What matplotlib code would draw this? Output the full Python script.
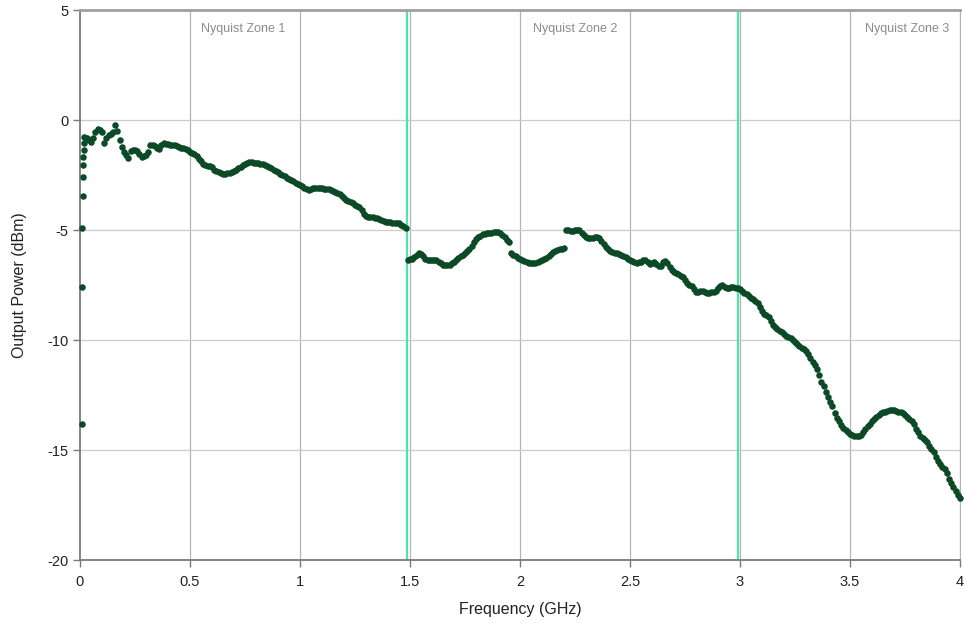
import numpy as np
import matplotlib
matplotlib.use('Agg')
import matplotlib.pyplot as plt

plt.rcParams['font.family'] = ['Liberation Sans', 'DejaVu Sans']
plt.rcParams['axes.unicode_minus'] = False

# first few readings right at the start of the sweep
low_freq = [0.009, 0.010, 0.011, 0.012, 0.013, 0.014, 0.015, 0.016, 0.018]
low_power = [-13.8, -7.6, -4.9, -3.45, -2.6, -2.05, -1.7, -1.35, -1.05]

# main sweep, 0.02 .. 4.00 GHz in 0.01 steps (dBm)
power = [
    -0.75, -0.82, -0.9, -1.0, -0.8, -0.55, -0.4, -0.45,
    -0.55, -1.05, -0.8, -0.7, -0.62, -0.55, -0.23, -0.5, -0.9, -1.23,
    -1.45, -1.6, -1.73, -1.4, -1.36, -1.38, -1.42, -1.55, -1.7, -1.65,
    -1.6, -1.45, -1.14, -1.15, -1.2, -1.25, -1.3, -1.15, -1.05, -1.08,
    -1.1, -1.12, -1.13, -1.15, -1.18, -1.22, -1.25, -1.27, -1.3, -1.38,
    -1.45, -1.5, -1.55, -1.65, -1.75, -1.88, -1.98, -2.05, -2.08, -2.1,
    -2.15, -2.25, -2.33, -2.38, -2.42, -2.45, -2.45, -2.43, -2.4, -2.35,
    -2.3, -2.25, -2.18, -2.12, -2.05, -2.0, -1.95, -1.92, -1.92, -1.95,
    -1.97, -1.96, -1.98, -2.0, -2.05, -2.1, -2.15, -2.2, -2.25, -2.3,
    -2.38, -2.45, -2.5, -2.55, -2.62, -2.68, -2.72, -2.78, -2.85, -2.9,
    -2.95, -3.0, -3.08, -3.15, -3.18, -3.15, -3.1, -3.08, -3.08, -3.1,
    -3.1, -3.12, -3.12, -3.15, -3.18, -3.22, -3.25, -3.3, -3.38, -3.45,
    -3.55, -3.62, -3.68, -3.72, -3.78, -3.85, -3.9, -3.95, -4.1, -4.25,
    -4.35, -4.4, -4.42, -4.43, -4.45, -4.47, -4.5, -4.55, -4.58, -4.62,
    -4.64, -4.65, -4.66, -4.67, -4.68, -4.7, -4.75, -4.82, -4.93, -6.36,
    -6.33, -6.3, -6.22, -6.12, -6.05, -6.08, -6.18, -6.3, -6.36, -6.38,
    -6.36, -6.35, -6.38, -6.45, -6.52, -6.58, -6.6, -6.6, -6.57, -6.52,
    -6.45, -6.38, -6.28, -6.2, -6.12, -6.05, -5.95, -5.85, -5.72, -5.55,
    -5.4, -5.3, -5.25, -5.2, -5.17, -5.15, -5.13, -5.12, -5.1, -5.08,
    -5.1, -5.15, -5.22, -5.32, -5.45, -5.55, -6.05, -6.12, -6.2, -6.27,
    -6.33, -6.38, -6.42, -6.46, -6.5, -6.5, -6.5, -6.48, -6.45, -6.42,
    -6.38, -6.32, -6.25, -6.18, -6.1, -6.02, -5.95, -5.9, -5.87, -5.85,
    -5.83, -5.0, -5.02, -5.05, -5.05, -5.02, -5.0, -5.02, -5.12, -5.22,
    -5.3, -5.35, -5.38, -5.37, -5.33, -5.3, -5.35, -5.5, -5.65, -5.75,
    -5.85, -5.95, -6.0, -6.03, -6.05, -6.08, -6.12, -6.18, -6.23, -6.3,
    -6.38, -6.43, -6.47, -6.48, -6.47, -6.45, -6.38, -6.35, -6.45, -6.55,
    -6.5, -6.45, -6.55, -6.65, -6.62, -6.45, -6.4, -6.5, -6.68, -6.82,
    -6.9, -6.95, -7.0, -7.08, -7.15, -7.28, -7.4, -7.48, -7.55, -7.7,
    -7.8, -7.82, -7.75, -7.78, -7.82, -7.85, -7.86, -7.84, -7.8, -7.75,
    -7.65, -7.55, -7.5, -7.58, -7.64, -7.62, -7.6, -7.6, -7.62, -7.64,
    -7.7, -7.78, -7.85, -7.92, -8.0, -8.08, -8.15, -8.22, -8.3, -8.5,
    -8.7, -8.8, -8.88, -8.95, -9.15, -9.3, -9.4, -9.5, -9.58, -9.65,
    -9.72, -9.8, -9.86, -9.92, -10.0, -10.1, -10.2, -10.28, -10.35, -10.42,
    -10.5, -10.62, -10.8, -11.0, -11.15, -11.3, -11.6, -11.9, -12.1, -12.35,
    -12.6, -12.8, -13.0, -13.3, -13.55, -13.7, -13.85, -13.98, -14.08, -14.18,
    -14.25, -14.3, -14.35, -14.38, -14.38, -14.3, -14.2, -14.05, -13.9, -13.8,
    -13.68, -13.58, -13.5, -13.4, -13.32, -13.28, -13.25, -13.22, -13.2, -13.2,
    -13.2, -13.22, -13.25, -13.28, -13.32, -13.4, -13.48, -13.58, -13.68, -13.8,
    -14.05, -14.2, -14.35, -14.45, -14.55, -14.65, -14.8, -14.95, -15.1, -15.3,
    -15.5, -15.62, -15.75, -15.85, -16.05, -16.3, -16.5, -16.7, -16.85, -17.05,
    -17.2,
]
freq = np.round(np.arange(0.02, 4.0001, 0.01), 2)
assert len(freq) == len(power), (len(freq), len(power))

zone_edges = [1.486, 2.99]
zone_labels = ['Nyquist Zone 1', 'Nyquist Zone 2', 'Nyquist Zone 3']
zone_label_x = [0.74, 2.25, 3.76]

x_ticks = [0, 0.5, 1, 1.5, 2, 2.5, 3, 3.5, 4]
x_ticklabels = ['0', '0.5', '1', '1.5', '2', '2.5', '3', '3.5', '4']
y_ticks = [-20, -15, -10, -5, 0, 5]


fig = plt.figure(figsize=(9.64, 6.25), dpi=100)
ax = fig.add_axes([80 / 964, 65 / 625, 880 / 964, 550 / 625])

ax.set_xlim(0, 4)
ax.set_ylim(-20, 5)
ax.set_xticks(x_ticks)
ax.set_xticklabels(x_ticklabels)
ax.set_yticks(y_ticks)

for x in x_ticks[1:]:
    ax.axvline(x, color='#b4b4b4', lw=0.9, zorder=1)
for y in y_ticks[1:-1]:
    ax.axhline(y, color='#cccccc', lw=0.9, zorder=1)

for x in zone_edges:
    ax.axvline(x, color='#4ee6a6', lw=1.6, zorder=2)
for x, t in zip(zone_label_x, zone_labels):
    ax.text(x, 4.12, t, ha='center', va='center', fontsize=9, color='#8c8c8c')

ax.scatter(low_freq + list(freq), low_power + power, s=22, color='#0c4a27',
           linewidths=0, zorder=3, clip_on=False)

for side in ['left', 'bottom']:
    ax.spines[side].set_color('#7a7a7a')
    ax.spines[side].set_linewidth(1.3)
ax.spines['top'].set_color('#a0a0a0')
ax.spines['top'].set_linewidth(2)
ax.spines['right'].set_color('#b4b4b4')
ax.tick_params(axis='both', colors='#7a7a7a', labelcolor='#222222',
               labelsize=10.5, length=5, width=1)
ax.tick_params(axis='x', pad=6)

ax.set_xlabel('Frequency (GHz)', fontsize=11.5, color='#222222', labelpad=9)
ax.set_ylabel('Output Power (dBm)', fontsize=11.5, color='#222222', labelpad=14)

fig.savefig('out.png', dpi=100)
